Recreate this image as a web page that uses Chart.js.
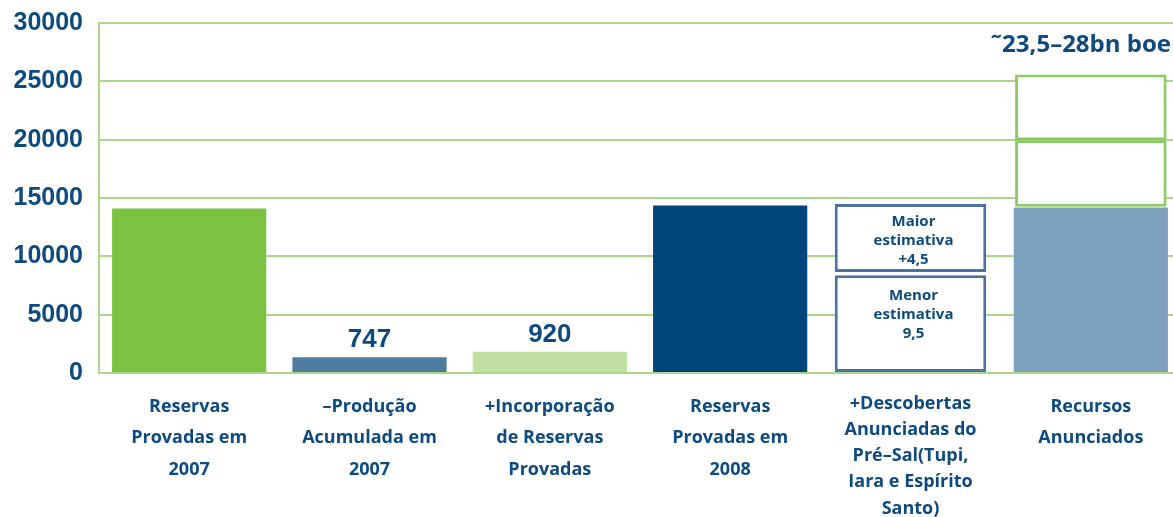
<!DOCTYPE html>
<html>
<head>
<meta charset="utf-8">
<script src="https://cdn.jsdelivr.net/npm/chart.js@4"></script>
<style>
  html, body { margin: 0; padding: 0; background: #fff; overflow: hidden; }
  #wrap { width: 1181px; height: 517px; position: relative; }
</style>
</head>
<body>
<div id="wrap"><canvas id="chart"></canvas></div>
<script>
/* ===== data ===== */
const categories = [
  ["Reservas", "Provadas em", "2007"],
  ["–Produção", "Acumulada em", "2007"],
  ["+Incorporação", "de Reservas", "Provadas"],
  ["Reservas", "Provadas em", "2008"],
  ["+Descobertas", "Anunciadas do", "Pré–Sal(Tupi,", "Iara e Espírito", "Santo)"],
  ["Recursos", "Anunciados"],
];
const solidValues = [14100, 1350, 1830, 14350, null, 14180];
const valueLabels = ["", "747", "920", "", "", ""];
const estimateLow = [0, 8380];      // Pré-Sal, menor estimativa
const estimateHigh = [8650, 14480]; // Pré-Sal, maior estimativa
const resourceLow = [14240, 19960];
const resourceHigh = [19960, 25590];
const estimateTexts = [["Maior", "estimativa", "+4,5"], ["Menor", "estimativa", "9,5"]];
const rangeLabel = "˜23,5–28bn boe";
const yTicks = [0, 5000, 10000, 15000, 20000, 25000, 30000];

/* ===== styles ===== */
const BAR_COLORS = ["#7cc242", "#4e7ba0", "#bfe0a0", "#00457a", "#ffffff", "#7fa1bd"];
const TEXT = "#0d4a80";
const GRID = "#a9d88a";
const PRESAL = 4, RESOURCES = 5;

function onlyAt(idx, val) {
  return categories.map((_, i) => (i === idx ? val : null));
}

function boxDataset(data, border) {
  return {
    data,
    backgroundColor: "#ffffff",
    borderColor: border,
    borderWidth: 3,
    borderSkipped: false,
    grouped: false,
    barPercentage: 0.84,
    categoryPercentage: 1,
    order: 1,
  };
}

const ctx = document.getElementById("chart");

const labelPlugin = {
  id: "labels",
  afterDatasetsDraw(chart) {
    const c = chart.ctx;
    const x = chart.scales.x, y = chart.scales.y;
    c.save();
    c.fillStyle = TEXT;
    c.textAlign = "center";
    // value labels above the small bars
    c.font = "bold 26px 'Liberation Sans', Arial, sans-serif";
    c.textBaseline = "alphabetic";
    valueLabels.forEach((t, i) => {
      if (!t) return;
      c.fillText(t, x.getPixelForValue(i), y.getPixelForValue(solidValues[i]) - 10);
    });
    // estimate box texts
    c.font = "bold 15px 'Open Sans', sans-serif";
    c.textBaseline = "middle";
    const cx = x.getPixelForValue(PRESAL) + 3;
    [estimateHigh, estimateLow].forEach((rng, k) => {
      const top = y.getPixelForValue(rng[1]);
      estimateTexts[k].forEach((line, j) => {
        c.fillText(line, cx, top + 18 + k * 3 + j * 19);
      });
    });
    // range label
    c.font = "bold 24px 'Open Sans', sans-serif";
    c.textBaseline = "alphabetic";
    c.textAlign = "right";
    c.fillText(rangeLabel, 1171, chart.chartArea.top + 29);
    c.restore();
  },
};

new Chart(ctx, {
  type: "bar",
  data: {
    labels: categories,
    datasets: [
      {
        data: solidValues.map(v => (v == null ? null : [0, v])),
        backgroundColor: BAR_COLORS,
        borderWidth: 0,
        grouped: false,
        barPercentage: 0.855,
        categoryPercentage: 1,
        order: 2,
      },
      boxDataset(onlyAt(PRESAL, estimateLow), "#4d71a1"),
      boxDataset(onlyAt(PRESAL, estimateHigh), "#4d71a1"),
      boxDataset(onlyAt(RESOURCES, resourceLow), "#8dca66"),
      boxDataset(onlyAt(RESOURCES, resourceHigh), "#8dca66"),
    ],
  },
  options: {
    responsive: true,
    maintainAspectRatio: false,
    animation: false,
    layout: { padding: { top: 23, left: 0, right: 0, bottom: 0 } },
    plugins: { legend: { display: false }, tooltip: { enabled: false } },
    scales: {
      x: {
        grid: { display: false },
        border: { display: true, color: GRID, width: 2 },
        ticks: {
          color: TEXT,
          font: c => ({
            family: "'Open Sans', sans-serif",
            size: 18,
            weight: "bold",
            lineHeight: c.index === PRESAL ? 1.45 : 1.75,
          }),
          padding: c => (c.index === PRESAL ? 12 : 10),
          maxRotation: 0,
          autoSkip: false,
        },
        afterFit(s) { s.height = 144; s.paddingLeft = 0; s.paddingRight = 0; },
      },
      y: {
        min: 0,
        max: 30000,
        afterBuildTicks(s) { s.ticks = yTicks.map(v => ({ value: v })); },
        grid: { color: GRID, lineWidth: 2, drawTicks: false },
        border: { display: true, color: GRID, width: 2 },
        ticks: {
          color: TEXT,
          font: { family: "'Liberation Sans', Arial, sans-serif", size: 25, weight: "bold" },
          padding: 16,
          callback: v => String(v),
        },
        afterFit(s) { s.width = 99; s.paddingTop = 0; s.paddingBottom = 0; },
      },
    },
  },
  plugins: [labelPlugin],
});
</script>
</body>
</html>
